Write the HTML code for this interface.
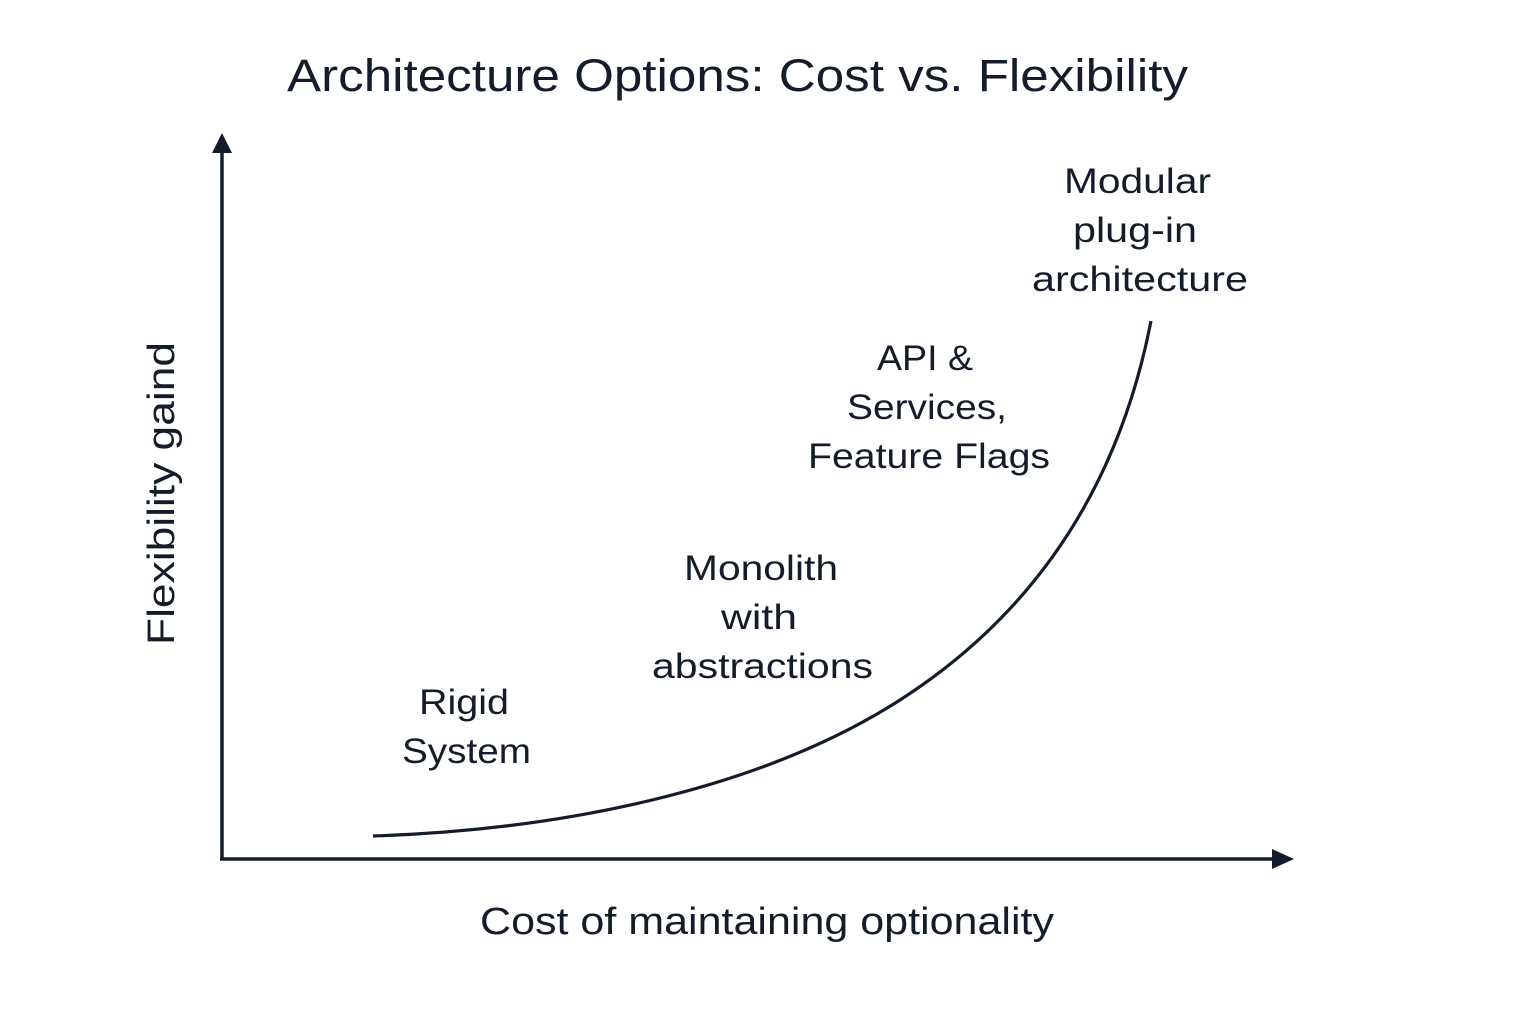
<!DOCTYPE html>
<html><head><meta charset="utf-8"><style>
html,body{margin:0;padding:0;background:#fff;}
svg{display:block}
text{font-family:"Liberation Sans",sans-serif;fill:#141b2b;}
</style></head><body>
<svg width="1536" height="1024" viewBox="0 0 1536 1024" xmlns="http://www.w3.org/2000/svg">
<text x="287" y="91" font-size="45" textLength="901" lengthAdjust="spacingAndGlyphs">Architecture Options: Cost vs. Flexibility</text>
<g stroke="#141b2b" stroke-width="3.5" fill="none">
<line x1="222" y1="860" x2="222" y2="145"/>
<line x1="220" y1="859" x2="1282" y2="859"/>
<path d="M373 836 C 560 830 760 790 900 700 C 1040 610 1120 480 1151 321" stroke-width="3.2"/>
</g>
<polygon points="222,133 212,153 232,153" fill="#141b2b"/>
<polygon points="1294,859 1272,849 1272,869" fill="#141b2b"/>
<text x="480" y="934" font-size="38" textLength="574" lengthAdjust="spacingAndGlyphs">Cost of maintaining optionality</text>
<text transform="translate(174,645) rotate(-90)" font-size="38" textLength="303" lengthAdjust="spacingAndGlyphs">Flexibility gaind</text>
<g font-size="35" lengthAdjust="spacingAndGlyphs">
<text x="1064" y="193" textLength="147" lengthAdjust="spacingAndGlyphs">Modular</text>
<text x="1073" y="242" textLength="124" lengthAdjust="spacingAndGlyphs">plug-in</text>
<text x="1032" y="291" textLength="216" lengthAdjust="spacingAndGlyphs">architecture</text>
<text x="877" y="370" textLength="96" lengthAdjust="spacingAndGlyphs">API &amp;</text>
<text x="847" y="419" textLength="160" lengthAdjust="spacingAndGlyphs">Services,</text>
<text x="808" y="468" textLength="242" lengthAdjust="spacingAndGlyphs">Feature Flags</text>
<text x="684" y="580" textLength="154" lengthAdjust="spacingAndGlyphs">Monolith</text>
<text x="721" y="629" textLength="76" lengthAdjust="spacingAndGlyphs">with</text>
<text x="652" y="678" textLength="221" lengthAdjust="spacingAndGlyphs">abstractions</text>
<text x="419" y="714" textLength="90" lengthAdjust="spacingAndGlyphs">Rigid</text>
<text x="402" y="763" textLength="129" lengthAdjust="spacingAndGlyphs">System</text>
</g>
</svg>
</body></html>
